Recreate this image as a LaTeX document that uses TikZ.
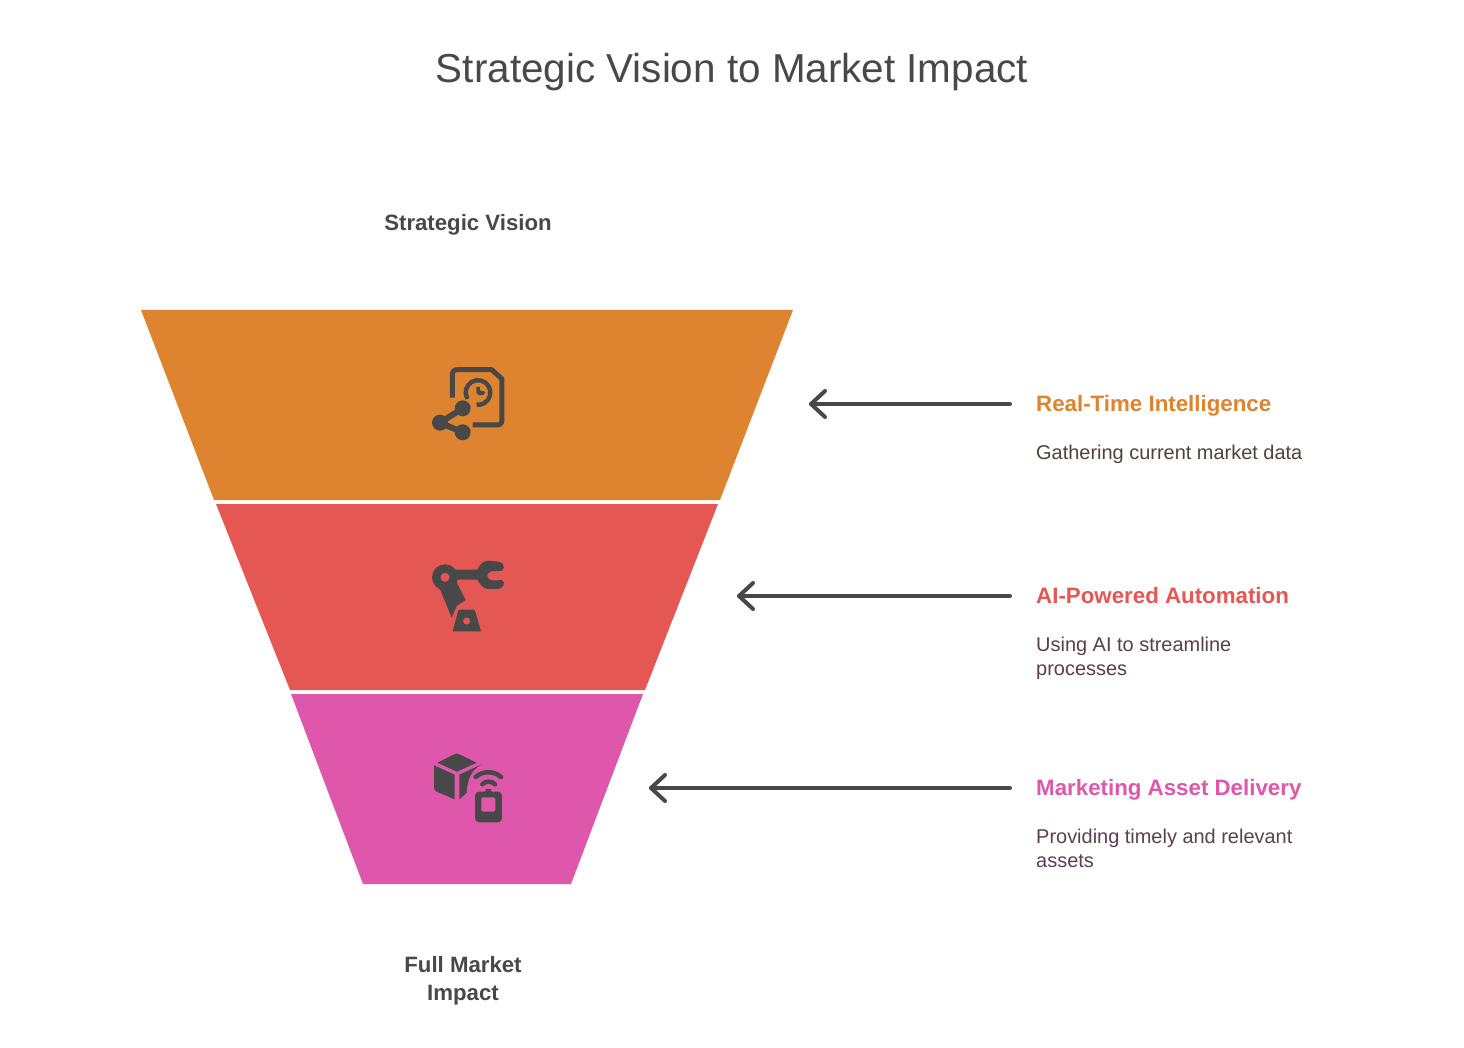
\documentclass[tikz,border=0pt]{standalone}
\usepackage{fontspec}
\setmainfont{Liberation Sans}
\definecolor{cOrange}{HTML}{DE832F}
\definecolor{cRed}{HTML}{E55753}
\definecolor{cPink}{HTML}{DE57AB}
\definecolor{cInk}{HTML}{484848}
\definecolor{dOrange}{HTML}{4F4339}
\definecolor{dRed}{HTML}{5A4040}
\definecolor{dPink}{HTML}{5A4052}
\tikzset{
  x=1pt,y=-1pt,
  tier/.style={fill=#1,draw=none},
  titletext/.style={inner sep=0,text=cInk,font=\fontsize{40.4}{48}\selectfont},
  endlabel/.style={inner sep=0,text=cInk,align=center,font=\fontsize{22.2}{28}\selectfont\bfseries},
  head/.style={inner sep=0,anchor=base west,font=\fontsize{22.3}{28}\selectfont\bfseries},
  desc/.style={inner sep=0,anchor=north west,align=left,font=\fontsize{19.95}{24}\selectfont},
  pointer/.style={draw=cInk,line width=4pt,line cap=round,line join=round},
  icon/.style={fill=cInk,draw=none},
  iconline/.style={draw=cInk,line cap=round,line join=round}
}
\begin{document}
\begin{tikzpicture}
\useasboundingbox (0,0) rectangle (1464,1048);
\fill[white] (0,0) rectangle (1464,1048);
\node[titletext] (title) at (732,72) {Strategic Vision to Market Impact};
\node[endlabel] (top) at (468,225) {Strategic Vision};
\node[endlabel] (bottom) at (463,981) {Full Market\\Impact};
% tiers
\fill[tier=cOrange] (141,310)--(793,310)--(720,500)--(214,500)--cycle;
\fill[tier=cRed] (216,504)--(718,504)--(645,690)--(290,690)--cycle;
\fill[tier=cPink] (291,694)--(643,694)--(571,884)--(363,884)--cycle;
% labels
\node[head,text=cOrange] (h1) at (1036,411) {Real-Time Intelligence};
\node[desc,text=dOrange] (d1) at (1036,445) {Gathering current market data};
\node[head,text=cRed] (h2) at (1036,603) {AI-Powered Automation};
\node[desc,text=dRed] (d2) at (1036,637) {Using AI to streamline\\processes};
\node[head,text=cPink] (h3) at (1036,795) {Marketing Asset Delivery};
\node[desc,text=dPink] (d3) at (1036,829) {Providing timely and relevant\\assets};
% arrows
\coordinate (t1) at (811,404); \coordinate (s1) at (1010,404);
\coordinate (t2) at (739,596); \coordinate (s2) at (1010,596);
\coordinate (t3) at (651,788); \coordinate (s3) at (1010,788);
\foreach \i in {1,2,3}{
  \draw[pointer] (s\i) -- (t\i);
  \draw[pointer] ([shift={(14,-13)}]t\i) -- (t\i) -- ([shift={(14,13)}]t\i);
}
% icon 1: document, clock, share
\begin{scope}[shift={(420,355)},x=0.3333pt,y=-0.3333pt]
  \draw[iconline,line width=5pt,line cap=butt] (97,128) -- (97,60) .. controls (97,48) and (103,44) .. (113,44) -- (215,44) -- (246,72) -- (246,195) .. controls (246,205) and (240,210) .. (230,210) -- (158,210);
  \draw[iconline,line width=4.4pt,line cap=butt] (142.4,131.6) arc[start angle=149,end angle=457,radius=37];
  \fill[icon] (169,96) -- (180,96) -- (180,106) -- (197,111) -- (190,120) -- (178,121) -- (169,114) -- cycle;
  \draw[iconline,line width=6pt] (128,160) -- (60,203) -- (128,232);
  \fill[icon] (128,160) circle[radius=24];
  \fill[icon] (60,203) circle[radius=24];
  \fill[icon] (128,232) circle[radius=24];
\end{scope}
% icon 2: robot arm
\begin{scope}[shift={(420,545)},x=0.3333pt,y=-0.3333pt]
  \fill[icon,even odd rule] (75,97) circle[radius=39] (75,97) circle[radius=14];
  \fill[icon] (105,74) -- (172,74) .. controls (180,60) and (186,48) .. (205,47) -- (235,50) .. controls (248,52) and (252,60) .. (252,68) .. controls (252,76) and (244,79) .. (230,78) .. controls (212,76) and (202,84) .. (202,92) .. controls (202,102) and (212,108) .. (230,106) .. controls (244,104) and (252,106) .. (252,112) .. controls (252,124) and (244,132) .. (230,132) -- (205,132) .. controls (190,132) and (180,118) .. (172,104) -- (105,104) -- cycle;
  \fill[icon] (58,128) -- (108,108) -- (137,165) -- (110,183) -- (95,218) -- cycle;
  \fill[icon,even odd rule] (122,194) -- (158,194) .. controls (163,194) and (165,196) .. (166,200) -- (183,259) -- (98,259) -- (114,200) .. controls (115,196) and (117,194) .. (122,194) -- cycle (140,228) circle[radius=11];
\end{scope}
% icon 3: cube and remote
\begin{scope}[shift={(420,740)},x=0.3333pt,y=-0.3333pt]
  \fill[icon] (52,68) -- (103,43) .. controls (108,40) and (113,40) .. (118,43) -- (170,68) -- (111,95) -- cycle;
  \fill[icon] (42,76) -- (104,104) -- (104,178) -- (50,155) .. controls (44,152) and (42,148) .. (42,142) -- cycle;
  \fill[icon] (118,104) -- (187,72) .. controls (160,85) and (142,110) .. (140,158) -- (118,178) -- cycle;
  \draw[iconline,line width=4.5pt] (167,111) .. controls (188,92) and (222,92) .. (243,111);
  \draw[iconline,line width=4.5pt] (187,133) .. controls (197,122) and (215,122) .. (225,133);
  \fill[icon,rounded corners=4pt] (165,155) rectangle (246,247);
  \fill[cPink,rounded corners=1.5pt] (184,172) rectangle (226,215);
  \fill[icon] (195,156) -- (198,147) -- (212,147) -- (215,156) -- cycle;
\end{scope}
\end{tikzpicture}
\end{document}
